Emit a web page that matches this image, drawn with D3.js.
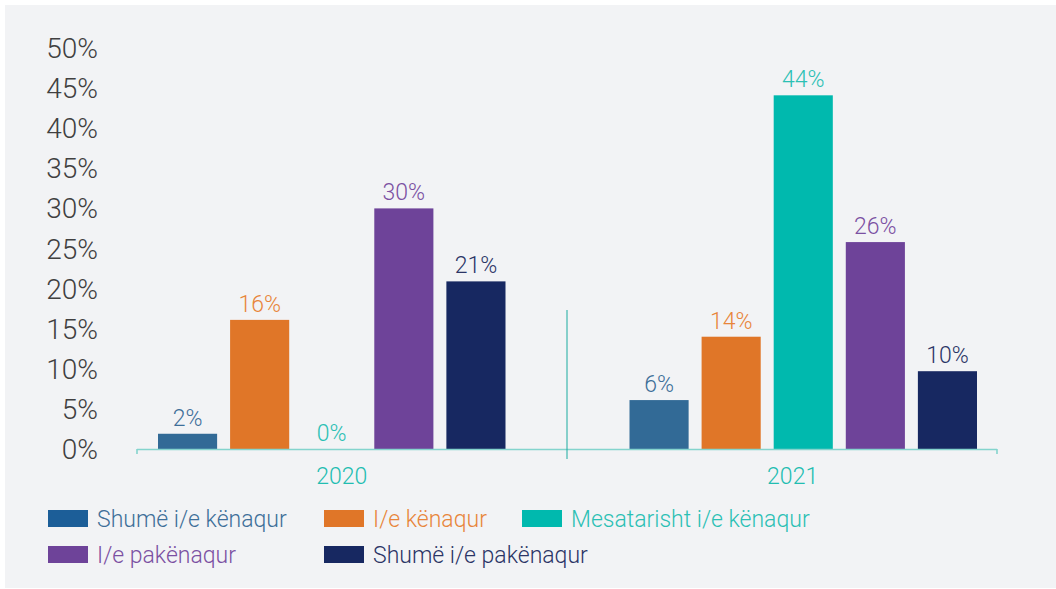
<!DOCTYPE html>
<html>
<head>
<meta charset="utf-8">
<script src="https://cdn.jsdelivr.net/npm/d3@7"></script>
<style>
  body { margin: 0; background: #fff; }
  text { font-family: Roboto, "Noto Sans", sans-serif; font-weight: 300; }
</style>
</head>
<body>
<svg id="chart" width="1056" height="589"></svg>
<script>
// chart data
const years = ["2020", "2021"];
const seriesNames = [
  "Shumë i/e kënaqur",
  "I/e kënaqur",
  "Mesatarisht i/e kënaqur",
  "I/e pakënaqur",
  "Shumë i/e pakënaqur"
];
const values2020 = [1.9, 16.1, 0, 30.0, 20.9];
const values2021 = [6.1, 14.0, 44.1, 25.8, 9.7];
const yTicks = [0, 5, 10, 15, 20, 25, 30, 35, 40, 45, 50];

const barColors = ["#326a96", "#e07628", "#00b9ae", "#6e4399", "#172861"];
const swatchColors = ["#1c5e98", "#e07628", "#00b9ae", "#6e4399", "#172861"];
const labelColors = ["#3e6f99", "#e8853a", "#2bc0b4", "#7b50a2", "#2b3566"];

const svg = d3.select("#chart");
const width = 1056, height = 589;

// background panel
svg.append("rect")
  .attr("x", 5).attr("y", 5)
  .attr("width", width - 5).attr("height", height - 6)
  .attr("fill", "#f2f3f5");

const data = years.map((year, i) => ({
  year,
  values: (i === 0 ? values2020 : values2021).map((v, j) => ({ key: seriesNames[j], value: v, idx: j }))
}));

const y = d3.scaleLinear().domain([0, 50]).range([449, 48]);

// axis band (ticks / separator)
const xAxisScale = d3.scaleBand().domain(years).range([137, 997]);

// bar groups
const x0 = d3.scaleBand().domain(years).range([158, 977]).paddingInner(0.263);
const x1 = d3.scaleBand().domain(seriesNames).range([0, x0.bandwidth()]).paddingInner(0.18);

// y labels
svg.append("g")
  .selectAll("text")
  .data(yTicks)
  .join("text")
  .attr("x", 98)
  .attr("y", d => y(d))
  .attr("dy", "0.36em")
  .attr("text-anchor", "end")
  .attr("font-size", 28)
  .attr("fill", "#404040")
  .text(d => d + "%");

// bars
const groups = svg.append("g")
  .selectAll("g")
  .data(data)
  .join("g")
  .attr("transform", d => `translate(${x0(d.year)},0)`);

groups.selectAll("rect")
  .data(d => d.values)
  .join("rect")
  .attr("x", d => x1(d.key))
  .attr("y", d => y(d.value))
  .attr("width", x1.bandwidth())
  .attr("height", d => y(0) - y(d.value))
  .attr("fill", d => barColors[d.idx]);

groups.selectAll("text")
  .data(d => d.values)
  .join("text")
  .attr("x", d => x1(d.key) + x1.bandwidth() / 2)
  .attr("y", d => y(d.value) - 8)
  .attr("text-anchor", "middle")
  .attr("font-size", 23)
  .attr("fill", d => labelColors[d.idx])
  .text(d => Math.round(d.value) + "%");

// x axis
const axis = svg.append("g");
axis.append("line")
  .attr("x1", xAxisScale.range()[0]).attr("x2", xAxisScale.range()[1])
  .attr("y1", y(0) + 0.5).attr("y2", y(0) + 0.5)
  .attr("stroke", "#84d4cd").attr("stroke-width", 1.6);
[xAxisScale.range()[0], xAxisScale.range()[1]].forEach(x => {
  axis.append("line")
    .attr("x1", x).attr("x2", x)
    .attr("y1", y(0)).attr("y2", y(0) + 5)
    .attr("stroke", "#84d4cd").attr("stroke-width", 1.6);
});
axis.append("line")
  .attr("x1", xAxisScale("2021")).attr("x2", xAxisScale("2021"))
  .attr("y1", 310).attr("y2", 459)
  .attr("stroke", "#1aaba0").attr("stroke-width", 1);

axis.selectAll("text.cat")
  .data(years)
  .join("text")
  .attr("class", "cat")
  .attr("x", d => (xAxisScale(d) + xAxisScale.bandwidth() / 2 + x0(d) + x0.bandwidth() / 2) / 2)
  .attr("y", 484)
  .attr("text-anchor", "middle")
  .attr("font-size", 23)
  .attr("fill", "#22bdb1")
  .text(d => d);

// legend
const legendPos = [[48, 510], [324, 510], [522, 510], [48, 546], [324, 546]];
const legend = svg.append("g")
  .selectAll("g")
  .data(seriesNames)
  .join("g")
  .attr("transform", (d, i) => `translate(${legendPos[i][0]},${legendPos[i][1]})`);

legend.append("rect")
  .attr("width", 40).attr("height", 17)
  .attr("fill", (d, i) => swatchColors[i]);

legend.append("text")
  .attr("x", 49)
  .attr("y", 17)
  .attr("font-size", 23)
  .attr("fill", (d, i) => labelColors[i])
  .text(d => d);
</script>
</body>
</html>
